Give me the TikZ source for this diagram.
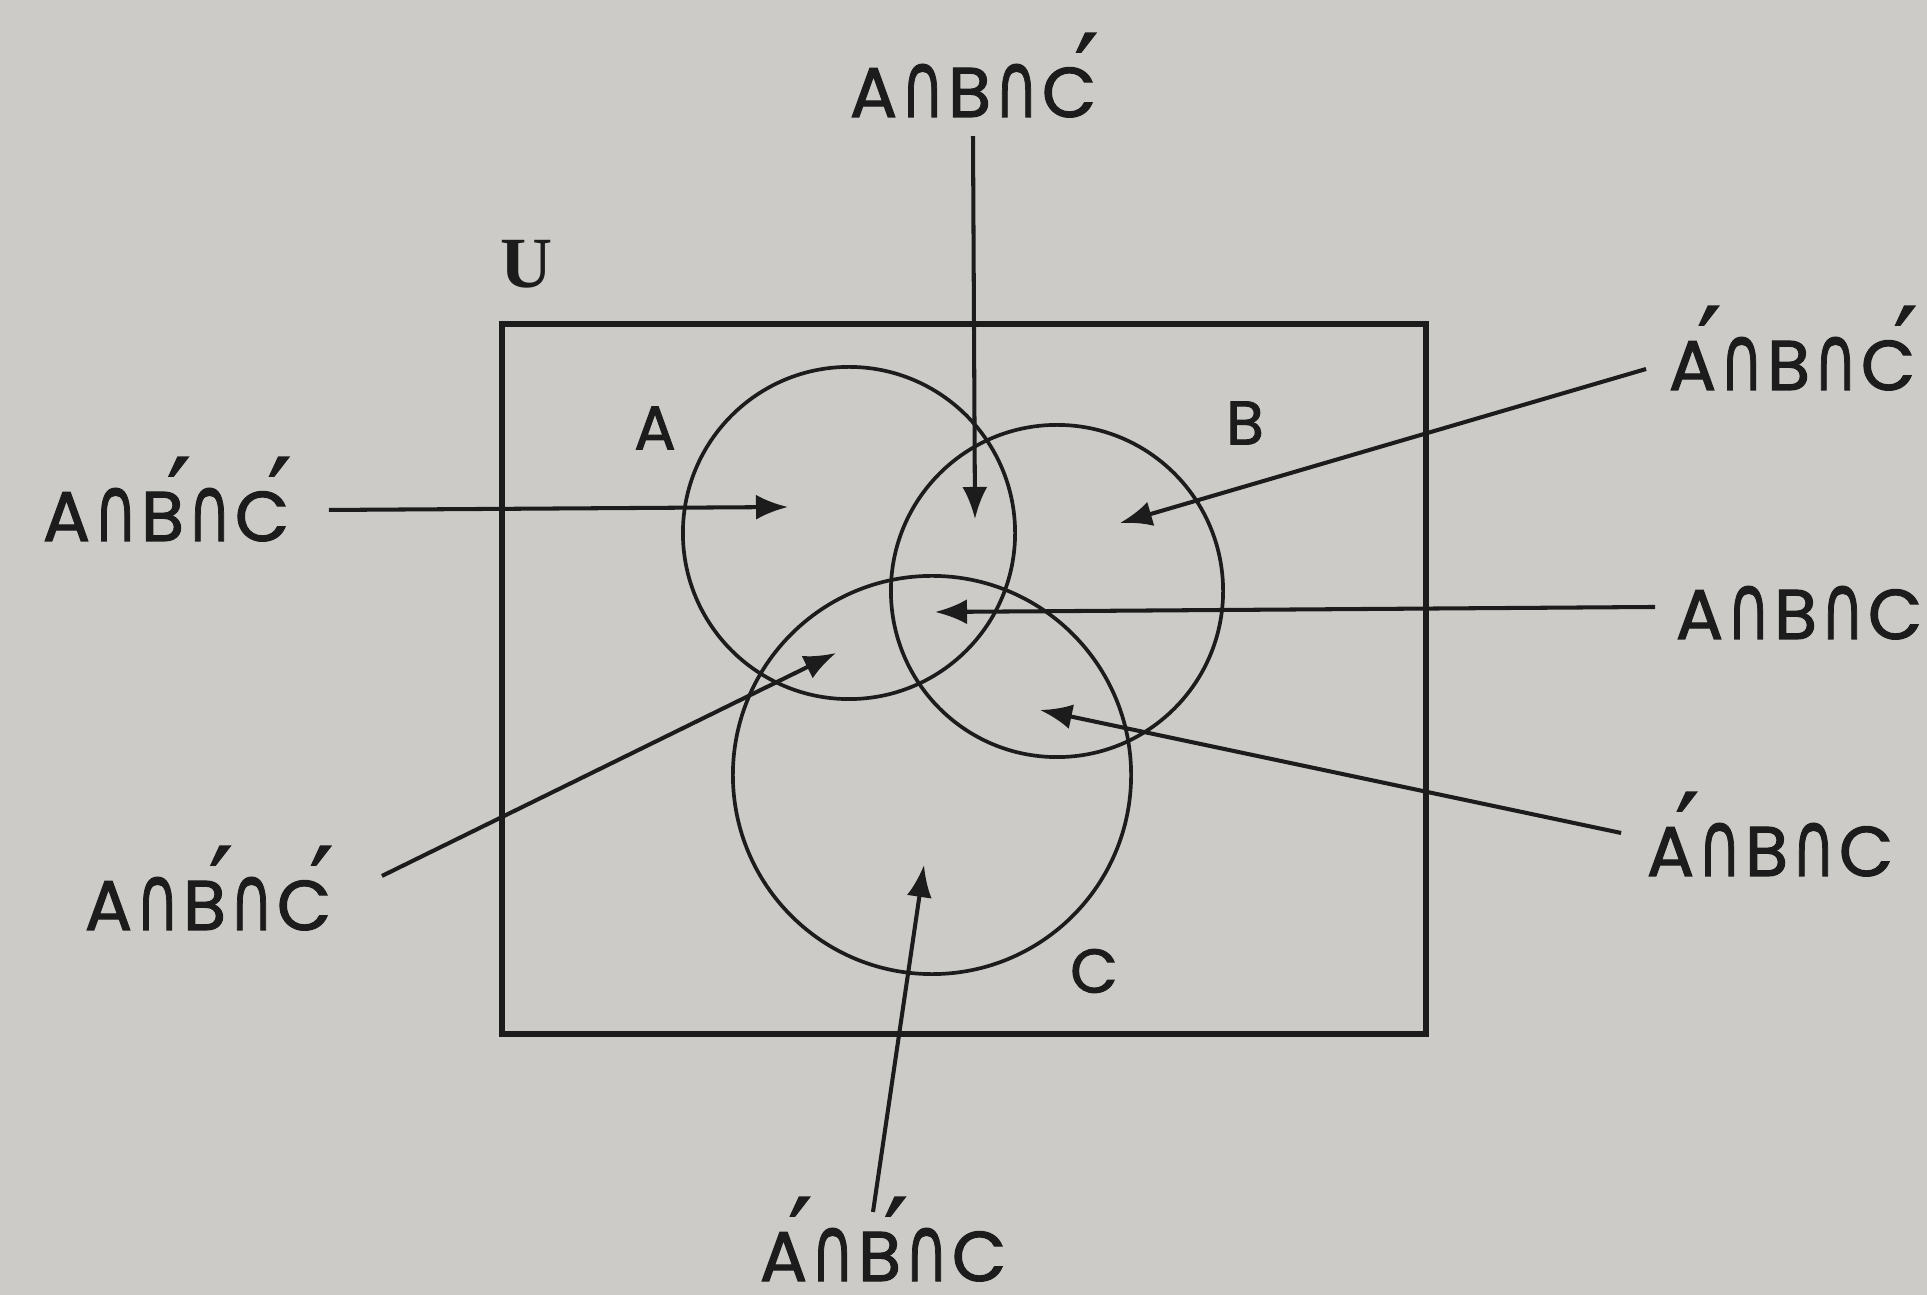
\documentclass[tikz,border=0pt]{standalone}
\usepackage{fontspec}
\setmainfont{Poppins}[FakeBold=1.6]
\newfontfamily\djv{DejaVu Sans}[FakeBold=1.2]
\newfontfamily\userif{Liberation Serif}
\usetikzlibrary{arrows.meta}
\definecolor{paper}{RGB}{204,203,199}
\definecolor{ink}{RGB}{28,28,28}
\newcommand{\cp}{\kern0.05em{\djv\scalebox{0.85}[1.3]{∩}}\kern0.05em}
\newsavebox\prbox
\newcommand{\pr}[1]{\sbox\prbox{#1}\usebox\prbox\kern-.40\wd\prbox\makebox[0pt][l]{\raisebox{0.10em}{\djv\scalebox{1.5}{′}}}\kern.40\wd\prbox}
\tikzset{
  lbl/.style={inner sep=0pt, anchor=base, font=\fontsize{20}{24}\selectfont, text=ink},
  setname/.style={inner sep=0pt, font=\fontsize{17.5}{21}\selectfont, text=ink},
  arr/.style={draw=ink, line width=1.15pt, -{Latex[length=0.32cm,width=0.25cm]}},
  setc/.style={draw=ink, line width=1.05pt},
  univ/.style={draw=ink, line width=1.6pt}
}
\begin{document}
\begin{tikzpicture}[x=0.01cm,y=-0.01cm]
\fill[paper] (0,0) rectangle (1927,1295);
\useasboundingbox (0,0) rectangle (1927,1295);
% universe
\draw[univ] (502,324) rectangle (1426,1034);
\node[inner sep=0pt, text=ink, font=\userif\bfseries\fontsize{20.5}{24}\selectfont] (U) at (527,264) {U};
% sets
\draw[setc] (849,533) circle[radius=1.66cm];
\draw[setc] (1057,591) circle[radius=1.66cm];
\draw[setc] (932,775) circle[radius=1.99cm];
\node[setname] (nA) at (655,428) {A};
\node[setname] (nB) at (1245,423) {B};
\node[setname] (nC) at (1094,971) {C};
% region labels
\node[lbl] (ltop) at (973,117) {A\cp B\cp\pr{C}};
\node[lbl] (lrt) at (1792,390) {\pr{A}\cp B\cp\pr{C}};
\node[lbl] (lleft) at (166,541) {A\cp\pr{B}\cp\pr{C}};
\node[lbl] (lrm) at (1799,639) {A\cp B\cp C};
\node[lbl] (lll) at (208,930) {A\cp\pr{B}\cp\pr{C}};
\node[lbl] (lrl) at (1770,876) {\pr{A}\cp B\cp C};
\node[lbl] (lbot) at (883,1281) {\pr{A}\cp\pr{B}\cp C};
% arrow targets
\coordinate (t1) at (975,519);
\coordinate (t2) at (1120,523);
\coordinate (t3) at (788,507);
\coordinate (t4) at (935,612);
\coordinate (t5) at (836,653);
\coordinate (t6) at (1040,710);
\coordinate (t7) at (924,865);
% arrows
\draw[arr] ([yshift=-0.18cm]ltop.south) -- (t1);
\draw[arr] ([shift={(-0.22cm,0.21cm)}]lrt.base west) -- (t2);
\draw[arr] ([shift={(0.39cm,0.31cm)}]lleft.base east) -- (t3);
\draw[arr] ([shift={(-0.20cm,0.32cm)}]lrm.base west) -- (t4);
\draw[arr] ([shift={(0.50cm,0.54cm)}]lll.base east) -- (t5);
\draw[arr] ([shift={(-0.25cm,0.43cm)}]lrl.base west) -- (t6);
\draw[arr] ([shift={(-0.10cm,0.69cm)}]lbot.base) -- (t7);
\end{tikzpicture}
\end{document}
